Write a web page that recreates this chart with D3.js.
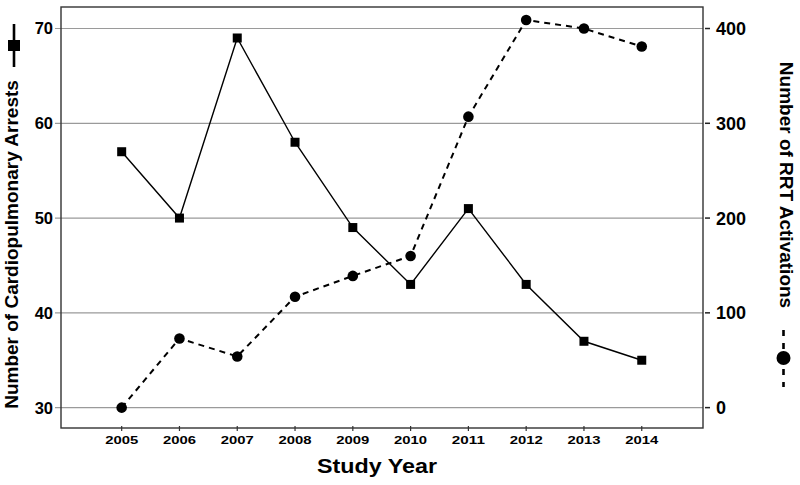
<!DOCTYPE html>
<html>
<head>
<meta charset="utf-8">
<script src="https://cdn.jsdelivr.net/npm/d3@7"></script>
<style>
    body { margin: 0; background: #fff; }
    svg { display: block; font-family: "Liberation Sans", Arial, sans-serif; }
</style>
</head>
<body>
<svg width="800" height="485"></svg>
<script>
// study years and the two series
const years = [2005, 2006, 2007, 2008, 2009, 2010, 2011, 2012, 2013, 2014];
const arrests = [57, 50, 69, 58, 49, 43, 51, 43, 37, 35];
const rrtActivations = [0, 73, 54, 117, 139, 160, 307, 409, 400, 381];

const leftTicks = [30, 40, 50, 60, 70];
const rightTicks = [0, 100, 200, 300, 400];

const frame = { left: 61, right: 703, top: 7, bottom: 428 };

const svg = d3.select("svg");

const x = d3.scaleLinear()
    .domain([2003.95, 2015.06])
    .range([frame.left, frame.right]);

const yLeft = d3.scaleLinear()
    .domain([27.85, 72.27])
    .range([frame.bottom, frame.top]);

// right axis lines up with left: 0 <-> 30, 400 <-> 70
const yRight = d3.scaleLinear()
    .domain([-21.5, 422.7])
    .range([frame.bottom, frame.top]);

// gridlines
svg.append("g")
    .selectAll("line")
    .data(leftTicks)
    .enter()
    .append("line")
    .attr("x1", frame.left - 6)
    .attr("x2", frame.right)
    .attr("y1", d => yLeft(d))
    .attr("y2", d => yLeft(d))
    .attr("stroke", "#9a9a9a")
    .attr("stroke-width", 1.2);

// frame
svg.append("rect")
    .attr("x", frame.left)
    .attr("y", frame.top)
    .attr("width", frame.right - frame.left)
    .attr("height", frame.bottom - frame.top)
    .attr("fill", "none")
    .attr("stroke", "#333")
    .attr("stroke-width", 1.4);

// left axis labels
svg.append("g")
    .selectAll("text")
    .data(leftTicks)
    .enter()
    .append("text")
    .attr("x", 53)
    .attr("y", d => yLeft(d))
    .attr("dy", "0.36em")
    .attr("text-anchor", "end")
    .style("font-size", "16.5px")
    .style("font-weight", "bold")
    .text(d => d);

// right axis ticks + labels
const right = svg.append("g");
right.selectAll("line")
    .data(rightTicks)
    .enter()
    .append("line")
    .attr("x1", frame.right + 2)
    .attr("x2", frame.right + 7)
    .attr("y1", d => yRight(d))
    .attr("y2", d => yRight(d))
    .attr("stroke", "#222")
    .attr("stroke-width", 1.5);
right.selectAll("text")
    .data(rightTicks)
    .enter()
    .append("text")
    .attr("x", 716)
    .attr("y", d => yRight(d))
    .attr("dy", "0.36em")
    .style("font-size", "18px")
    .style("font-weight", "bold")
    .text(d => d);

// bottom ticks + year labels
const bottom = svg.append("g");
bottom.selectAll("line")
    .data(years)
    .enter()
    .append("line")
    .attr("x1", d => x(d))
    .attr("x2", d => x(d))
    .attr("y1", frame.bottom - 2)
    .attr("y2", frame.bottom + 3)
    .attr("stroke", "#333")
    .attr("stroke-width", 1.2);
bottom.selectAll("text")
    .data(years)
    .enter()
    .append("text")
    .attr("x", d => x(d))
    .attr("y", 444)
    .attr("text-anchor", "middle")
    .attr("textLength", 33)
    .attr("lengthAdjust", "spacingAndGlyphs")
    .style("font-size", "11.5px")
    .style("font-weight", "bold")
    .text(d => d);

// axis titles
svg.append("text")
    .attr("x", 377)
    .attr("y", 473)
    .attr("text-anchor", "middle")
    .attr("textLength", 120)
    .attr("lengthAdjust", "spacingAndGlyphs")
    .style("font-size", "21px")
    .style("font-weight", "bold")
    .text("Study Year");

svg.append("text")
    .attr("transform", "translate(18,244.5) rotate(-90)")
    .attr("text-anchor", "middle")
    .style("font-size", "19px")
    .style("font-weight", "bold")
    .text("Number of Cardiopulmonary Arrests");

svg.append("text")
    .attr("transform", "translate(780,185) rotate(90)")
    .attr("text-anchor", "middle")
    .style("font-size", "19px")
    .style("font-weight", "bold")
    .text("Number of RRT Activations");

// legend symbols beside the titles
const legLeft = svg.append("g").attr("transform", "translate(14,46)");
legLeft.append("line")
    .attr("y1", -22).attr("y2", 21)
    .attr("stroke", "#000").attr("stroke-width", 2.6);
legLeft.append("rect")
    .attr("x", -6).attr("y", -6)
    .attr("width", 12).attr("height", 11)
    .attr("fill", "#000");

const legRight = svg.append("g").attr("transform", "translate(783.5,358)");
legRight.append("line")
    .attr("y1", -28).attr("y2", 29)
    .attr("stroke", "#000").attr("stroke-width", 2.6)
    .attr("stroke-dasharray", "6,7");
legRight.append("circle")
    .attr("r", 7)
    .attr("fill", "#000");

// series lines
const pts = years.map((yr, i) => ({ year: yr, arrests: arrests[i], rrt: rrtActivations[i] }));

const arrestLine = d3.line()
    .x(d => x(d.year))
    .y(d => yLeft(d.arrests));
const rrtLine = d3.line()
    .x(d => x(d.year))
    .y(d => yRight(d.rrt));

svg.append("path")
    .datum(pts)
    .attr("d", rrtLine)
    .attr("fill", "none")
    .attr("stroke", "#000")
    .attr("stroke-width", 2)
    .attr("stroke-dasharray", "6,5");

svg.append("path")
    .datum(pts)
    .attr("d", arrestLine)
    .attr("fill", "none")
    .attr("stroke", "#000")
    .attr("stroke-width", 1.4);

svg.append("g")
    .selectAll("circle")
    .data(pts)
    .enter()
    .append("circle")
    .attr("cx", d => x(d.year))
    .attr("cy", d => yRight(d.rrt))
    .attr("r", 5.3)
    .attr("fill", "#000");

svg.append("g")
    .selectAll("rect")
    .data(pts)
    .enter()
    .append("rect")
    .attr("x", d => x(d.year) - 4.5)
    .attr("y", d => yLeft(d.arrests) - 4.5)
    .attr("width", 9)
    .attr("height", 9)
    .attr("fill", "#000");
</script>
</body>
</html>
